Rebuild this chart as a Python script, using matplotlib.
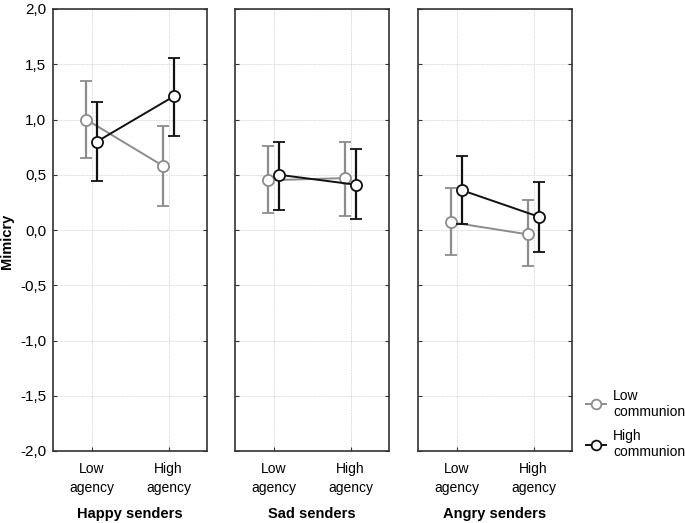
import matplotlib
matplotlib.use("Agg")
import matplotlib.pyplot as plt
from matplotlib.lines import Line2D
import numpy as np

plt.rcParams["font.family"] = ["Liberation Sans", "DejaVu Sans"]
plt.rcParams["font.size"] = 10.5

panels = ["Happy senders", "Sad senders", "Angry senders"]
agency = ["Low\nagency", "High\nagency"]
series = ["Low\ncommunion", "High\ncommunion"]

# mean, lower, upper for [Low agency, High agency] per panel
low_comm_mean = [[1.00, 0.58], [0.45, 0.47], [0.07, -0.04]]
low_comm_lo = [[0.65, 0.22], [0.15, 0.13], [-0.23, -0.33]]
low_comm_hi = [[1.35, 0.94], [0.76, 0.80], [0.38, 0.27]]

high_comm_mean = [[0.80, 1.21], [0.50, 0.41], [0.36, 0.12]]
high_comm_lo = [[0.44, 0.85], [0.18, 0.10], [0.05, -0.20]]
high_comm_hi = [[1.16, 1.56], [0.80, 0.73], [0.67, 0.43]]

colors = ["#8c8c8c", "#111111"]
offsets = [-0.07, 0.07]

fig = plt.figure(figsize=(6.85, 5.23), dpi=100)
lefts = [53, 235, 418]
axes = []
for i, left in enumerate(lefts):
    ax = fig.add_axes([left / 685, 1 - 451 / 523, 154 / 685, 442 / 523])
    axes.append(ax)
    x = np.arange(2)
    data = [(low_comm_mean, low_comm_lo, low_comm_hi), (high_comm_mean, high_comm_lo, high_comm_hi)]
    for j, (m, lo, hi) in enumerate(data):
        mean = np.array(m[i])
        yerr = [mean - np.array(lo[i]), np.array(hi[i]) - mean]
        ax.errorbar(x + offsets[j], mean, yerr=yerr, color=colors[j], lw=1.4,
                    elinewidth=1.6, capsize=4, capthick=1.6, marker="o", ms=8,
                    mfc="white", mec=colors[j], mew=1.3, zorder=3 + j)
    ax.set_xlim(-0.5, 1.5)
    ax.set_ylim(-2.0, 2.0)
    ax.set_xticks(x)
    ax.set_xticklabels(agency, fontsize=10, linespacing=1.45)
    ax.set_yticks(np.arange(-2.0, 2.01, 0.5))
    ax.grid(True, color="#d8d8d8", lw=0.6, ls=(0, (2, 1)))
    ax.tick_params(direction="in", length=3, right=True, left=True, color="#333333")
    ax.tick_params(axis="x", pad=8)
    ax.tick_params(axis="y", pad=5)
    for s in ax.spines.values():
        s.set_color("#333333")
        s.set_linewidth(1.2)
    ax.set_xlabel(panels[i], fontweight="bold", fontsize=10.5, va="top")
    ax.xaxis.set_label_coords(0.5, -0.127)
    if i == 0:
        ax.set_yticklabels([f"{v:.1f}".replace(".", ",") for v in np.arange(-2.0, 2.01, 0.5)], fontsize=11)
        ax.set_ylabel("Mimicry", fontweight="bold", fontsize=10.5)
        ax.yaxis.set_label_coords(-0.25, 0.475)
    else:
        ax.set_yticklabels([])

handles = [Line2D([], [], color=c, lw=1.4, marker="o", ms=7, mfc="white", mec=c, mew=1.3)
           for c in colors]
fig.legend(handles, series, loc="center left", bbox_to_anchor=(580 / 685, 1 - 424 / 523),
           frameon=False, fontsize=10, handlelength=1.5, labelspacing=0.75, handletextpad=0.5,
           borderaxespad=0)

fig.savefig("out.png", dpi=100)
